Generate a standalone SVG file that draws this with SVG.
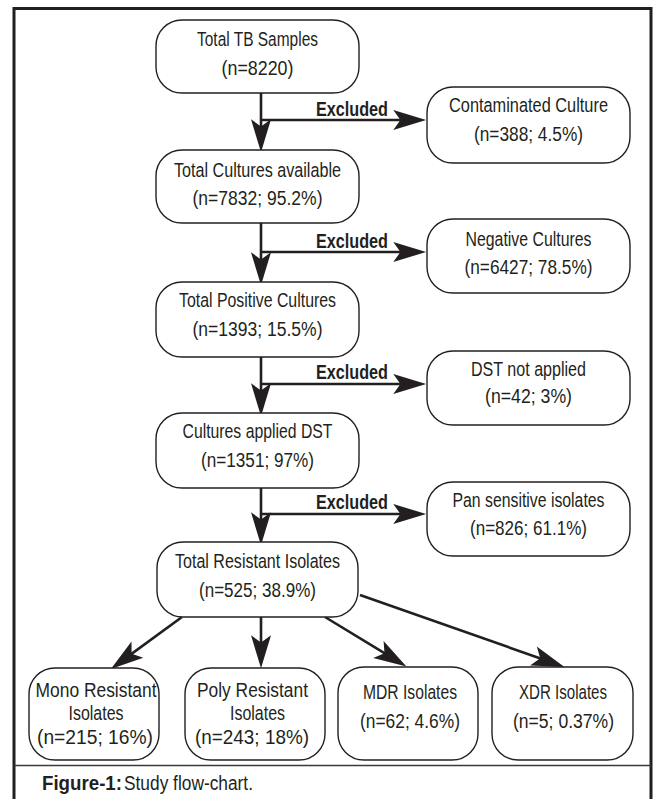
<svg xmlns="http://www.w3.org/2000/svg" width="654" height="799" viewBox="0 0 654 799">
<style>
.box{fill:#fff;stroke:#231f20;stroke-width:1.4}
.t{font-family:"Liberation Sans",Arial,sans-serif;font-size:20.5px;fill:#231f20;text-anchor:middle}
.b{font-family:"Liberation Sans",Arial,sans-serif;font-size:21px;font-weight:bold;fill:#231f20}
.c{font-family:"Liberation Sans",Arial,sans-serif;font-size:20px;fill:#231f20}
.ln{fill:none;stroke:#231f20;stroke-width:2.6;marker-end:url(#ah)}
.ln2{fill:none;stroke:#231f20;stroke-width:2.6}
</style>
<defs>
<marker id="ah" markerUnits="userSpaceOnUse" markerWidth="40" markerHeight="40" viewBox="-14 -10 28 20" refX="0" refY="0" orient="auto" overflow="visible">
<path d="M12,0 L-11,-7 L-6,0 L-11,7 Z" fill="#231f20"/>
</marker>
</defs>
<rect width="654" height="799" fill="#fff"/>
<g id="frame">
<path d="M14,800 V8.5 H651 V800" fill="none" stroke="#231f20" stroke-width="3"/>
<line x1="14" y1="765.5" x2="651" y2="765.5" stroke="#3a3a3a" stroke-width="1.5"/>
</g>
<g id="connectors">
<path class="ln" d="M261,93 V135"/>
<path class="ln" d="M261,120 H409"/>
<path class="ln" d="M261,223 V268"/>
<path class="ln" d="M261,252 H409"/>
<path class="ln" d="M261,357 V399"/>
<path class="ln" d="M261,384 H409"/>
<path class="ln" d="M261,488 V528"/>
<path class="ln" d="M261,514 H409"/>
<path class="ln" d="M182,617 L124.7,658.9"/>
<path class="ln" d="M261,617 V651"/>
<path class="ln" d="M325,617 L391.8,657.7"/>
<path class="ln" d="M360,595 L548.3,661.2"/>
<text class="b" x="316" y="116" textLength="72" lengthAdjust="spacingAndGlyphs">Excluded</text>
<text class="b" x="316" y="248" textLength="72" lengthAdjust="spacingAndGlyphs">Excluded</text>
<text class="b" x="316" y="379" textLength="72" lengthAdjust="spacingAndGlyphs">Excluded</text>
<text class="b" x="316" y="509" textLength="72" lengthAdjust="spacingAndGlyphs">Excluded</text>
</g>
<g id="n-total-tb">
<rect class="box" x="156" y="20" width="203" height="73" rx="26"/>
<text class="t" x="257.5" y="46" textLength="121" lengthAdjust="spacingAndGlyphs">Total TB Samples</text>
<text class="t" x="257.5" y="75" textLength="72" lengthAdjust="spacingAndGlyphs">(n=8220)</text>
</g>
<g id="n-contaminated">
<rect class="box" x="427" y="87" width="203" height="76" rx="26"/>
<text class="t" x="528.5" y="112" textLength="159" lengthAdjust="spacingAndGlyphs">Contaminated Culture</text>
<text class="t" x="528.5" y="141" textLength="109" lengthAdjust="spacingAndGlyphs">(n=388; 4.5%)</text>
</g>
<g id="n-cultures-available">
<rect class="box" x="156" y="150" width="203" height="73" rx="26"/>
<text class="t" x="257.5" y="177" textLength="167" lengthAdjust="spacingAndGlyphs">Total Cultures available</text>
<text class="t" x="257.5" y="205" textLength="130" lengthAdjust="spacingAndGlyphs">(n=7832; 95.2%)</text>
</g>
<g id="n-negative">
<rect class="box" x="427" y="219" width="203" height="74" rx="26"/>
<text class="t" x="528.5" y="246" textLength="126" lengthAdjust="spacingAndGlyphs">Negative Cultures</text>
<text class="t" x="528.5" y="274" textLength="128" lengthAdjust="spacingAndGlyphs">(n=6427; 78.5%)</text>
</g>
<g id="n-positive">
<rect class="box" x="156" y="282" width="203" height="75" rx="26"/>
<text class="t" x="257.5" y="307" textLength="157" lengthAdjust="spacingAndGlyphs">Total Positive Cultures</text>
<text class="t" x="257.5" y="336" textLength="130" lengthAdjust="spacingAndGlyphs">(n=1393; 15.5%)</text>
</g>
<g id="n-dst-not-applied">
<rect class="box" x="427" y="351" width="203" height="74" rx="26"/>
<text class="t" x="528.5" y="376" textLength="115" lengthAdjust="spacingAndGlyphs">DST not applied</text>
<text class="t" x="528.5" y="403" textLength="87" lengthAdjust="spacingAndGlyphs">(n=42; 3%)</text>
</g>
<g id="n-applied-dst">
<rect class="box" x="156" y="413" width="203" height="75" rx="26"/>
<text class="t" x="257.5" y="438" textLength="150" lengthAdjust="spacingAndGlyphs">Cultures applied DST</text>
<text class="t" x="257.5" y="467" textLength="113" lengthAdjust="spacingAndGlyphs">(n=1351; 97%)</text>
</g>
<g id="n-pan-sensitive">
<rect class="box" x="427" y="482" width="203" height="74" rx="26"/>
<text class="t" x="528.5" y="507" textLength="152" lengthAdjust="spacingAndGlyphs">Pan sensitive isolates</text>
<text class="t" x="528.5" y="535" textLength="117" lengthAdjust="spacingAndGlyphs">(n=826; 61.1%)</text>
</g>
<g id="n-resistant">
<rect class="box" x="157" y="542" width="201" height="75" rx="26"/>
<text class="t" x="257.5" y="568" textLength="165" lengthAdjust="spacingAndGlyphs">Total Resistant Isolates</text>
<text class="t" x="257.5" y="597" textLength="117" lengthAdjust="spacingAndGlyphs">(n=525; 38.9%)</text>
</g>
<g id="n-mono">
<rect class="box" x="29" y="668" width="130" height="92" rx="26"/>
<text class="t" x="96" y="697" textLength="121" lengthAdjust="spacingAndGlyphs">Mono Resistant</text>
<text class="t" x="96" y="720" textLength="55" lengthAdjust="spacingAndGlyphs">Isolates</text>
<text class="t" x="95" y="744" textLength="116" lengthAdjust="spacingAndGlyphs">(n=215; 16%)</text>
</g>
<g id="n-poly">
<rect class="box" x="185" y="668" width="140" height="92" rx="26"/>
<text class="t" x="252.5" y="697" textLength="111" lengthAdjust="spacingAndGlyphs">Poly Resistant</text>
<text class="t" x="257.5" y="720" textLength="55" lengthAdjust="spacingAndGlyphs">Isolates</text>
<text class="t" x="252" y="744" textLength="114" lengthAdjust="spacingAndGlyphs">(n=243; 18%)</text>
</g>
<g id="n-mdr">
<rect class="box" x="338" y="667" width="140" height="93" rx="26"/>
<text class="t" x="410" y="699" textLength="94" lengthAdjust="spacingAndGlyphs">MDR Isolates</text>
<text class="t" x="410" y="728" textLength="100" lengthAdjust="spacingAndGlyphs">(n=62; 4.6%)</text>
</g>
<g id="n-xdr">
<rect class="box" x="492" y="667" width="141" height="93" rx="26"/>
<text class="t" x="563" y="699" textLength="88" lengthAdjust="spacingAndGlyphs">XDR Isolates</text>
<text class="t" x="563.5" y="728" textLength="101" lengthAdjust="spacingAndGlyphs">(n=5; 0.37%)</text>
</g>
<g id="caption">
<text class="c" x="42" y="790" font-weight="bold" textLength="80" lengthAdjust="spacingAndGlyphs">Figure-1:</text>
<text class="c" x="124" y="790" textLength="129" lengthAdjust="spacingAndGlyphs">Study flow-chart.</text>
</g>
</svg>
